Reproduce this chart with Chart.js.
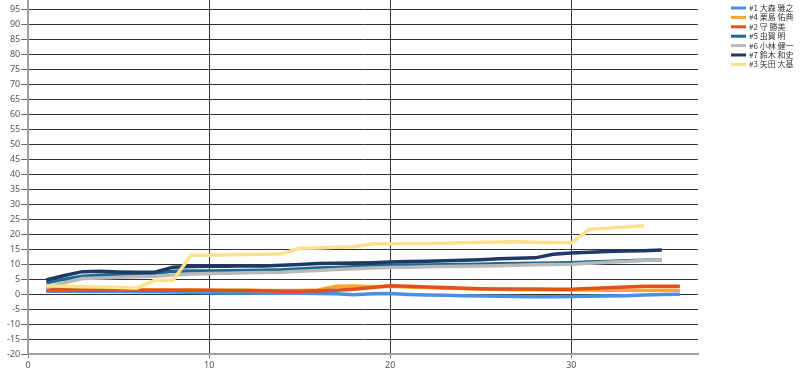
<!DOCTYPE html>
<html>
<head>
<meta charset="utf-8">
<script src="https://cdn.jsdelivr.net/npm/chart.js@4"></script>
<style>
  html, body { margin: 0; padding: 0; background: #fff; }
  #wrap { width: 800px; height: 375px; }
</style>
</head>
<body>
<div id="wrap"><canvas id="chart" width="800" height="375"></canvas></div>
<script>
// series names in legend order
const names = ['#1 大森 雅之', '#4 栗島 佑典', '#2 守 勝美', '#5 虫賀 明', '#6 小林 健一', '#7 鈴木 和史', '#3 矢田 大基'];
const colors = ['#4a90e2', '#f7a531', '#e4501c', '#1d6a90', '#b9b9b9', '#1e3966', '#fde08c'];

// values per round, starting at x = 1
const s1 = [1.0, 1.0, 0.9, 0.9, 0.9, 0.8, 0.8, 0.7, 0.6, 0.5, 0.4, 0.4, 0.3, 0.3, 0.3, 0.2, 0.1, -0.2, 0.1, 0.2,
  -0.1, -0.3, -0.4, -0.5, -0.6, -0.7, -0.8, -0.9, -0.9, -0.8, -0.7, -0.6, -0.5, -0.3, -0.1, 0.0];
const s4 = [1.8, 1.7, 1.6, 1.6, 1.5, 1.5, 1.4, 1.4, 1.4, 1.3, 1.3, 1.3, 1.2, 1.2, 1.2, 1.4, 2.6, 2.7, 2.5, 2.6,
  2.4, 2.2, 2.0, 1.9, 1.7, 1.6, 1.5, 1.5, 1.4, 1.4, 1.4, 1.3, 1.3, 1.3, 1.3, 1.3];
const s2 = [1.5, 1.5, 1.4, 1.4, 1.4, 1.3, 1.3, 1.3, 1.3, 1.3, 1.2, 1.2, 1.1, 1.0, 1.0, 1.1, 1.3, 1.6, 2.2, 2.8,
  2.6, 2.4, 2.2, 2.0, 1.8, 1.7, 1.7, 1.7, 1.6, 1.6, 1.9, 2.1, 2.4, 2.6, 2.6, 2.6];
const s5 = [3.8, 5.0, 6.0, 6.3, 6.6, 6.8, 7.0, 7.6, 7.7, 7.7, 7.8, 7.9, 8.0, 8.1, 8.4, 8.7, 8.9, 9.1, 9.3, 9.6,
  9.7, 9.7, 9.8, 9.9, 10.0, 10.1, 10.2, 10.3, 10.4, 10.5, 10.7, 10.9, 11.1, 11.3, 11.5];
const s6 = [2.2, 3.8, 5.2, 5.4, 5.6, 5.8, 6.0, 6.4, 6.7, 6.9, 7.0, 7.1, 7.2, 7.3, 7.6, 7.9, 8.2, 8.5, 8.7, 8.9,
  9.0, 9.1, 9.2, 9.3, 9.4, 9.5, 9.6, 9.8, 9.9, 10.0, 10.3, 10.6, 10.9, 11.2, 11.5];
const s7 = [4.7, 6.2, 7.5, 7.6, 7.4, 7.3, 7.3, 9.0, 9.2, 9.3, 9.3, 9.5, 9.4, 9.6, 9.9, 10.2, 10.3, 10.4, 10.5, 10.7,
  10.9, 11.0, 11.1, 11.3, 11.5, 11.8, 12.0, 12.1, 13.3, 13.7, 14.0, 14.2, 14.4, 14.5, 14.7];
const s3 = [2.8, 2.6, 2.5, 2.4, 2.2, 2.0, 4.6, 4.6, 13.0, 13.0, 13.1, 13.2, 13.3, 13.5, 15.3, 15.4, 15.6, 15.8, 16.8, 16.8,
  16.9, 16.9, 17.0, 17.1, 17.3, 17.4, 17.5, 17.3, 17.2, 17.1, 21.6, 22.0, 22.4, 22.8];

const series = [s1, s4, s2, s5, s6, s7, s3];

// axis ticks
const xTicks = [0, 10, 20, 30];
const xMin = 0, xMax = 37;
const yMin = -20, yMax = 98, yTop = 95, yStep = 5;

const datasets = series.map((vals, i) => ({
  label: names[i],
  data: vals.map((v, k) => ({ x: k + 1, y: v })),
  borderColor: colors[i],
  backgroundColor: colors[i],
  borderWidth: 3.5,
  pointRadius: 0,
  tension: 0,
  // later series drawn on top
  order: series.length - i
}));

const font = { family: "'Noto Sans', 'Noto Sans CJK JP', sans-serif", size: 9 };

// small legend drawn to the right of the plot
const sideLegend = {
  id: 'sideLegend',
  afterDraw(chart) {
    const ctx = chart.ctx;
    ctx.save();
    ctx.font = "8px 'Noto Sans CJK JP', sans-serif";
    ctx.textBaseline = 'middle';
    ctx.fillStyle = '#333';
    names.forEach((name, i) => {
      const y = 8 + i * 9.4;
      ctx.strokeStyle = colors[i];
      ctx.lineWidth = 3;
      ctx.beginPath();
      ctx.moveTo(731, y);
      ctx.lineTo(746, y);
      ctx.stroke();
      ctx.fillText(name, 749, y);
    });
    ctx.restore();
  }
};

new Chart(document.getElementById('chart'), {
  type: 'line',
  data: { datasets },
  plugins: [sideLegend],
  options: {
    responsive: false,
    animation: false,
    layout: { padding: { left: 6, right: 102, top: 0, bottom: 2 } },
    plugins: {
      tooltip: { enabled: false },
      legend: { display: false }
    },
    scales: {
      x: {
        type: 'linear',
        min: xMin,
        max: xMax,
        afterBuildTicks: (axis) => { axis.ticks = xTicks.map(v => ({ value: v })); },
        grid: { color: '#333', lineWidth: 1, tickLength: 4, tickColor: '#777' },
        border: { color: '#a0a0a0', width: 2 },
        ticks: { font, color: '#555', padding: 2, maxRotation: 0 }
      },
      y: {
        type: 'linear',
        min: yMin,
        max: yMax,
        afterBuildTicks: (axis) => {
          const t = [];
          for (let v = yMin; v <= yTop; v += yStep) t.push({ value: v });
          axis.ticks = t;
        },
        afterFit: (axis) => { axis.paddingTop = 0; },
        grid: { color: '#333', lineWidth: 1, tickLength: 7, tickColor: '#666' },
        border: { color: '#a0a0a0', width: 2 },
        ticks: { font, color: '#555', padding: 1 }
      }
    }
  }
});
</script>
</body>
</html>
